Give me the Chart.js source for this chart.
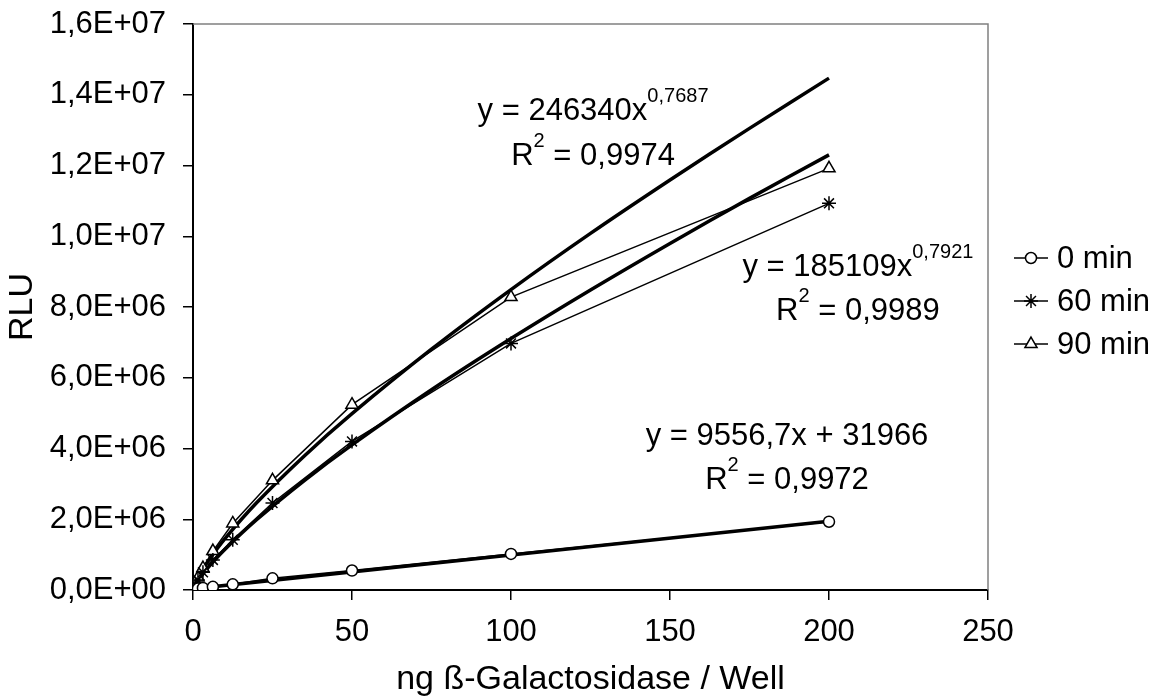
<!DOCTYPE html>
<html>
<head>
<meta charset="utf-8">
<script src="https://cdn.jsdelivr.net/npm/chart.js@4.4.1/dist/chart.umd.min.js"></script>
<style>
    html, body { margin: 0; padding: 0; background: #fff; }
    #wrap { width: 1157px; height: 697px; }
</style>
</head>
<body>
<div id="wrap"><canvas id="chart" width="1157" height="697"></canvas></div>
<script>
// Datos
const ngWell = [0, 0.78, 1.56, 3.13, 6.25, 12.5, 25, 50, 100, 200];
const rlu0 = [10000, 30000, 40000, 60000, 90000, 160000, 330000, 550000, 1020000, 1930000];
const rlu60 = [10000, 160000, 280000, 500000, 850000, 1420000, 2460000, 4200000, 6970000, 10930000];
const rlu90 = [10000, 200000, 350000, 620000, 1100000, 1880000, 3100000, 5240000, 8280000, 11920000];

const trendX = [0.78, 2, 5, 10, 20, 35, 50, 75, 100, 125, 150, 175, 200];
const trend60 = [152000, 320000, 662000, 1147000, 1986000, 3094000, 4104000, 5659000, 7107000, 8480000, 9796000, 11070000, 12300000];
const trend90 = [203000, 420000, 849000, 1446000, 2464000, 3789000, 4984000, 6806000, 8491000, 10080000, 11590000, 13050000, 14470000];
const trend0X = [0, 200];
const trend0 = [32000, 1943000];

const seriesLabels = ['0 min', '60 min', '90 min'];
const seriesMarkers = ['circle', 'star', 'triangle'];

// Ecuaciones: piezas de texto (true = superíndice) y posición en unidades de datos
const equations = [
    { parts: [['y = 246340x', false], ['0,7687', true]], x: 125.8, y: 13540000 },
    { parts: [['R', false], ['2', true], [' = 0,9974', false]], x: 125.8, y: 12260000 },
    { parts: [['y = 185109x', false], ['0,7921', true]], x: 209.1, y: 9120000 },
    { parts: [['R', false], ['2', true], [' = 0,9989', false]], x: 209.1, y: 7870000 },
    { parts: [['y = 9556,7x + 31966', false]], x: 186.8, y: 4330000 },
    { parts: [['R', false], ['2', true], [' = 0,9972', false]], x: 186.8, y: 3090000 }
];

const FAMILY = '"Liberation Sans", Arial, sans-serif';
const FONT_SIZE = 31;
const TITLE_SIZE = 34;
const FONT = FONT_SIZE + 'px ' + FAMILY;
const SUP_FONT = '20px ' + FAMILY;
const markerRadius = [5.5, 7, 7];

function toPoints(xs, ys) {
    return xs.map((x, i) => ({ x: x, y: ys[i] }));
}

function fmtExp(v) {
    if (v === 0) return '0,0E+00';
    const parts = v.toExponential(1).split('e');
    const mant = parts[0].replace('.', ',');
    const exp = parseInt(parts[1], 10);
    const sign = exp < 0 ? '-' : '+';
    return mant + 'E' + sign + String(Math.abs(exp)).padStart(2, '0');
}

const seriesData = [rlu0, rlu60, rlu90];

const datasets = [];
seriesData.forEach((ys, i) => {
    datasets.push({
        label: seriesLabels[i],
        data: toPoints(ngWell, ys),
        showLine: true,
        borderColor: '#000',
        borderWidth: 1.5,
        pointStyle: seriesMarkers[i],
        pointRadius: markerRadius[i],
        pointBackgroundColor: '#fff',
        pointBorderColor: '#000',
        pointBorderWidth: 1.5,
        order: 0
    });
});

[[trend0X, trend0], [trendX, trend60], [trendX, trend90]].forEach(t => {
    datasets.push({
        label: 'trend',
        data: toPoints(t[0], t[1]),
        showLine: true,
        borderColor: '#000',
        borderWidth: 3.5,
        pointRadius: 0,
        tension: 0.3,
        order: 1
    });
});

// Marco gris del área de trazado (arriba y derecha)
const framePlugin = {
    id: 'frame',
    beforeDatasetsDraw(chart) {
        const a = chart.chartArea;
        const ctx = chart.ctx;
        ctx.save();
        ctx.strokeStyle = '#808080';
        ctx.lineWidth = 1.5;
        ctx.beginPath();
        ctx.moveTo(a.left, a.top);
        ctx.lineTo(a.right, a.top);
        ctx.lineTo(a.right, a.bottom);
        ctx.stroke();
        ctx.restore();
    }
};

// Texto de las ecuaciones
const equationPlugin = {
    id: 'equations',
    afterDatasetsDraw(chart) {
        const ctx = chart.ctx;
        const xs = chart.scales.x;
        const ys = chart.scales.y;
        ctx.save();
        ctx.fillStyle = '#000';
        ctx.textBaseline = 'middle';
        ctx.textAlign = 'left';
        equations.forEach(eq => {
            const px = xs.getPixelForValue(eq.x);
            const py = ys.getPixelForValue(eq.y);
            let total = 0;
            eq.parts.forEach(p => {
                ctx.font = p[1] ? SUP_FONT : FONT;
                total += ctx.measureText(p[0]).width;
            });
            let cx = px - total / 2;
            eq.parts.forEach(p => {
                ctx.font = p[1] ? SUP_FONT : FONT;
                ctx.fillText(p[0], cx, p[1] ? py - 15 : py);
                cx += ctx.measureText(p[0]).width;
            });
        });
        ctx.restore();
    }
};

// Leyenda a la derecha (línea + marcador)
const legendPlugin = {
    id: 'sideLegend',
    afterDraw(chart) {
        const ctx = chart.ctx;
        const a = chart.chartArea;
        const x0 = a.right + 26;
        const rowGap = 43;
        const yMid = (a.top + a.bottom) / 2 - 6;
        ctx.save();
        seriesLabels.forEach((lab, i) => {
            const y = yMid + (i - 1) * rowGap;
            ctx.strokeStyle = '#000';
            ctx.lineWidth = 1.5;
            ctx.beginPath();
            ctx.moveTo(x0, y);
            ctx.lineTo(x0 + 34, y);
            ctx.stroke();
            ctx.fillStyle = '#fff';
            Chart.helpers.drawPoint(ctx, {
                pointStyle: seriesMarkers[i],
                radius: markerRadius[i],
                borderWidth: 1.5
            }, x0 + 17, y);
            ctx.fillStyle = '#000';
            ctx.font = FONT;
            ctx.textAlign = 'left';
            ctx.textBaseline = 'middle';
            ctx.fillText(lab, x0 + 43, y + 1);
        });
        ctx.restore();
    }
};

const ctx = document.getElementById('chart').getContext('2d');
new Chart(ctx, {
    type: 'scatter',
    data: { datasets: datasets },
    options: {
        responsive: false,
        animation: false,
        devicePixelRatio: 1,
        layout: { padding: { left: 0, right: 169, top: 0, bottom: 0 } },
        plugins: {
            legend: { display: false },
            tooltip: { enabled: false }
        },
        scales: {
            x: {
                type: 'linear',
                min: 0,
                max: 250,
                afterFit(scale) { scale.height = 107; },
                ticks: {
                    stepSize: 50,
                    color: '#000',
                    font: { family: FAMILY, size: FONT_SIZE },
                    padding: 14
                },
                grid: { drawOnChartArea: false, drawTicks: true, tickLength: 10, color: '#000', lineWidth: 1.5 },
                border: { color: '#000', width: 2 },
                title: {
                    display: true,
                    text: 'ng ß-Galactosidase / Well',
                    color: '#000',
                    font: { family: FAMILY, size: TITLE_SIZE, lineHeight: 1.0 },
                    padding: { top: 4, bottom: 0 }
                }
            },
            y: {
                type: 'linear',
                min: 0,
                max: 16000000,
                afterFit(scale) {
                    scale.width = 193;
                    scale.paddingTop = 24;
                },
                ticks: {
                    stepSize: 2000000,
                    color: '#000',
                    font: { family: FAMILY, size: FONT_SIZE },
                    padding: 17,
                    callback: v => fmtExp(v)
                },
                grid: { drawOnChartArea: false, drawTicks: true, tickLength: 10, color: '#000', lineWidth: 1.5 },
                border: { color: '#000', width: 2 },
                title: {
                    display: true,
                    text: 'RLU',
                    color: '#000',
                    font: { family: FAMILY, size: TITLE_SIZE },
                    padding: { top: 2, bottom: 0 }
                }
            }
        }
    },
    plugins: [framePlugin, equationPlugin, legendPlugin]
});
</script>
</body>
</html>
